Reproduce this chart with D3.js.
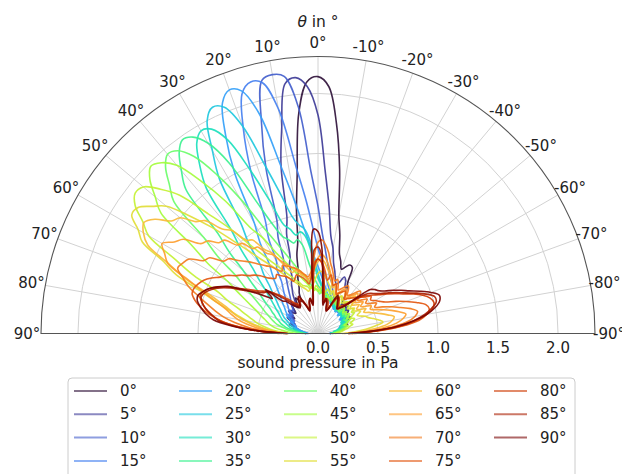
<!DOCTYPE html>
<html><head><meta charset="utf-8">
<script src="https://cdn.jsdelivr.net/npm/d3@7/dist/d3.min.js"></script>
<style>body{margin:0;background:#fff} text{font-family:"DejaVu Sans",sans-serif;fill:#222}</style>
</head><body><svg id="c" width="622" height="474"></svg>
<script>
// angle of incidence (deg), positive = left
const angles = [-90,-87.5,-85,-82.5,-80,-77.5,-75,-72.5,-70,-67.5,-65,-62.5,-60,-57.5,-55,-52.5,-50,-47.5,-45,-42.5,-40,-37.5,-35,-32.5,-30,-27.5,-25,-22.5,-20,-17.5,-15,-12.5,-10,-7.5,-5,-2.5,0,2.5,5,7.5,10,12.5,15,17.5,20,22.5,25,27.5,30,32.5,35,37.5,40,42.5,45,47.5,50,52.5,55,57.5,60,62.5,65,67.5,70,72.5,75,77.5,80,82.5,85,87.5,90];
const seriesNames = ["0°","5°","10°","15°","20°","25°","30°","35°","40°","45°","50°","55°","60°","65°","70°","75°","80°","85°","90°"];
const p0 = [0.12,0.15,0.18,0.2,0.22,0.2,0.24,0.26, 0.22,0.25,0.28,0.3,0.26,0.28,0.3,0.32, 0.28,0.3,0.33,0.35,0.3,0.34,0.4,0.45, .5,.62,.63,.6,.57,.63,.69,.84, 1.0,1.38,1.76,2.06,2.14,2.1,1.84,1.33, 1.03,.78,.68,.55,.49,.41,.37,.3, 0.32,0.35,0.3,0.27,0.3,0.32,0.28,0.25, 0.27,0.3,0.26,0.23,0.25,0.28,0.24,0.21, 0.23,0.25,0.21,0.18,0.2,0.17,0.14,0.12, 0.1];
const p5 = [.1,.13,.16,.18,.2,.22,.2,.23, .26,.24,.27,.3,.28,.25,.28,.32, .3,.33,.36,.32,.3,.35,.4,.44, .45,.5,.52,.46,.44,.48,.54,.6, .72,.82,1.06,1.36,1.82,2.06,2.14,2.1, 1.74,1.42,1.0,.87,.68,.62,.51,.48, .43,.39,.34,.3,.31,.33,.29,.26, .28,.31,.27,.24,.26,.29,.25,.22, .24,.21,.19,.21,.18,.16,.14,.12, .1];
const p10 = [.1,.12,.15,.17,.19,.21,.19,.22, .24,.22,.25,.28,.26,.24,.27,.3, .28,.31,.29,.27,.3,.28,.26,.29, .3,.28,.32,.34,.36,.4,.44,.47, .53,.6,.7,.83,1.06,1.35,1.9,2.16, 2.19,2.16,1.82,1.44,1.0,.87,.68,.62, .53,.47,.42,.38,.35,.32,.3,.28, .3,.27,.25,.28,.24,.22,.25,.21, .2,.22,.19,.17,.16,.14,.12,.1, .09];
const p15 = [.09,.12,.14,.16,.18,.2,.18,.21, .23,.21,.24,.26,.24,.22,.25,.27, .25,.28,.26,.24,.27,.3,.27,.25, .26,.28,.29,.27,.32,.34,.37,.4, .44,.48,.54,.62,.71,.86,1.1,1.4, 1.9,2.14,2.17,2.1,1.82,1.46,1.04,.89, .69,.64,.53,.48,.44,.4,.37,.34, .32,.29,.27,.3,.26,.24,.22,.25, .21,.19,.2,.17,.15,.13,.11,.1, .08];
const p20 = [.1,.13,.15,.17,.16,.19,.21,.19, .22,.24,.22,.25,.23,.21,.24,.26, .24,.22,.25,.27,.24,.23,.26,.24, .25,.26,.27,.28,.3,.31,.33,.35, .38,.41,.45,.5,.56,.63,.73,.88, 1.12,1.43,1.9,2.12,2.16,2.08,1.82,1.5, 1.06,.9,.71,.63,.56,.5,.45,.41, .38,.35,.33,.31,.3,.27,.25,.23, .21,.19,.2,.17,.15,.13,.11,.1, .08];
const p25 = [.1,.12,.14,.16,.18,.17,.2,.22, .2,.23,.25,.22,.24,.26,.23,.25, .27,.24,.26,.28,.25,.27,.29,.26, .28,.27,.29,.28,.3,.29,.31,.33, .35,.37,.4,.44,.5,.6,.78,.88, .92,1.0,1.2,1.47,1.84,2.04,2.08,2.0, 1.76,1.53,1.12,.95,.75,.67,.58,.52, .47,.43,.4,.37,.35,.33,.31,.28, .26,.24,.22,.2,.18,.16,.13,.11, .09];
const p30 = [.1,.12,.14,.13,.16,.18,.2,.19, .22,.24,.21,.23,.25,.27,.24,.26, .24,.27,.25,.28,.26,.24,.27,.25, .27,.26,.28,.3,.29,.31,.33,.3, .34,.36,.38,.42,.46,.55,.7,.82, .86,.84,.9,.95,1.18,1.47,1.78,1.92, 1.95,1.88,1.72,1.53,1.12,.95,.77,.67, .58,.52,.47,.43,.4,.37,.35,.33, .31,.28,.26,.24,.21,.18,.15,.12, .1];
const p35 = [.12,.14,.13,.16,.18,.2,.22,.2, .23,.25,.27,.24,.26,.28,.25,.27, .26,.28,.25,.27,.29,.26,.28,.3, .28,.3,.27,.29,.31,.3,.32,.34, .33,.34,.36,.38,.4,.44,.5,.6, .75,.8,.78,.82,.86,.98,1.21,1.6, 1.83,1.94,1.97,1.9,1.77,1.63,1.18,1.0, .81,.7,.61,.55,.5,.45,.42,.39, .37,.34,.32,.29,.26,.22,.18,.14, .11];
const p40 = [.11,.14,.16,.18,.2,.22,.24,.22, .25,.27,.25,.28,.3,.27,.29,.26, .28,.3,.27,.25,.28,.3,.27,.29, .31,.28,.3,.32,.29,.31,.33,.3, .32,.34,.35,.33,.36,.37,.38,.4, .44,.48,.52,.57,.64,.73,.85,1.02, 1.3,1.57,1.8,1.92,1.95,1.88,1.75,1.63, 1.24,1.05,.83,.73,.64,.57,.52,.48, .44,.41,.38,.35,.3,.26,.21,.16, .12];
const p45 = [.13,.15,.18,.2,.22,.24,.26,.23, .26,.28,.3,.27,.29,.31,.28,.3, .27,.29,.31,.28,.26,.29,.31,.28, .3,.32,.29,.31,.33,.3,.32,.34, .33,.35,.34,.36,.35,.37,.36,.38, .4,.43,.46,.5,.54,.6,.67,.76, .92,1.04,1.35,1.6,1.83,1.93,1.97,1.9, 1.77,1.65,1.29,1.09,.87,.76,.67,.6, .54,.5,.46,.43,.4,.36,.3,.24, .18];
const p50 = [.14,.17,.2,.22,.25,.27,.3,.28, .31,.33,.3,.32,.35,.33,.36,.34, .32,.35,.33,.36,.34,.32,.35,.37, .34,.36,.33,.35,.37,.34,.36,.38, .35,.37,.39,.36,.38,.4,.37,.39, .38,.4,.41,.42,.45,.48,.52,.57, .63,.7,.8,.93,1.14,1.35,1.63,1.78, 1.9,1.92,1.86,1.73,1.63,1.35,1.14,.9, .8,.7,.63,.57,.52,.46,.4,.32, .24];
const p55 = [.2,.3,.4,.48,.55,.52,.48,.44, .42,.38,.36,.4,.38,.35,.37,.34, .36,.4,.38,.35,.33,.36,.34,.37, .35,.33,.36,.34,.38,.36,.4,.42, .45,.48,.5,.52,.5,.46,.42,.39, .38,.36,.38,.4,.42,.45,.48,.52, .57,.63,.7,.78,.9,1.05,1.25,1.45, 1.65,1.74,1.83,1.84,1.73,1.65,1.42,1.28, 1.05,.9,.78,.68,.6,.52,.44,.35, .26];
const p60 = [.22,.35,.48,.58,.63,.65,.6,.55, .5,.46,.42,.45,.4,.38,.42,.39, .37,.41,.44,.4,.38,.36,.39,.42, .4,.37,.35,.38,.42,.4,.44,.48, .52,.56,.6,.62,.6,.55,.5,.46, .44,.48,.5,.53,.56,.55,.6,.68, .78,.83,.95,.98,1.12,1.18,1.33,1.38, 1.5,1.54,1.66,1.72,1.68,1.6,1.37,1.2, .98,.85,.76,.7,.62,.54,.45,.35, .25];
const p65 = [.25,.4,.55,.66,.72,.75,.7,.64, .58,.52,.48,.5,.45,.42,.46,.43, .4,.44,.47,.43,.4,.38,.41,.44, .42,.39,.37,.4,.44,.42,.46,.5, .55,.6,.64,.66,.63,.58,.52,.48, .46,.5,.52,.55,.58,.6,.64,.69, .76,.79,.88,.89,.98,1.0,1.1,1.12, 1.2,1.23,1.37,1.42,1.5,1.44,1.38,1.17, 1.02,.9,.8,.74,.68,.6,.5,.38, .26];
const p70 = [.28,.45,.62,.75,.82,.85,.8,.72, .65,.58,.52,.55,.5,.47,.5,.46, .43,.47,.5,.46,.42,.4,.44,.47, .45,.42,.4,.44,.48,.46,.5,.55, .6,.68,.74,.78,.76,.66,.56,.5, .48,.5,.53,.56,.58,.6,.62,.64, .6,.63,.68,.71,.75,.8,.85,.9, .97,.99,1.1,1.13,1.24,1.27,1.29,1.22, 1.15,1.05,.96,.88,.8,.7,.58,.44, .3];
const p75 = [.3,.5,.7,.85,.92,.95,.93,.86, .78,.7,.62,.58,.55,.52,.54,.5, .47,.45,.42,.4,.38,.36,.4,.42, .4,.38,.36,.4,.44,.42,.46,.5, .45,.5,.56,.6,.62,.6,.52,.46, .42,.45,.48,.5,.52,.5,.48,.52, .55,.57,.6,.58,.6,.63,.68,.72, .75,.8,.84,.9,.94,1.0,1.05,1.08, 1.1,1.1,1.06,1.0,.92,.82,.68,.5, .32];
const p80 = [.28,.48,.68,.82,.92,.98,1.0,.98, .93,.86,.78,.72,.66,.6,.56,.52, .48,.42,.36,.32,.3,.28,.3,.33, .35,.32,.26,.22,.24,.28,.3,.27, .3,.4,.52,.6,.62,.58,.45,.32, .26,.3,.28,.24,.22,.26,.3,.34, .32,.28,.3,.32,.36,.4,.45,.5, .54,.58,.62,.68,.75,.84,.92,.98, 1.02,1.03,1.0,.96,.9,.82,.68,.48, .28];
const p85 = [.26,.46,.66,.8,.9,.97,1.02,1.02, .96,.88,.8,.74,.68,.62,.58,.55, .5,.42,.34,.3,.27,.26,.28,.31, .34,.33,.28,.22,.2,.24,.28,.28, .26,.34,.48,.66,.72,.7,.5,.3, .24,.28,.27,.22,.2,.24,.28,.32, .3,.27,.28,.3,.33,.37,.42,.48, .55,.56,.6,.65,.72,.82,.9,.96, 1.0,1.02,1.0,.96,.9,.84,.7,.5, .26];
const p90 = [.25,.45,.66,.8,.92,1.0,1.05,1.06, 1.0,.92,.84,.78,.72,.66,.62,.6, .57,.45,.35,.3,.28,.26,.28,.3, .33,.36,.3,.22,.2,.22,.28,.3, .24,.3,.45,.72,.85,.87,.6,.32, .24,.3,.28,.22,.2,.24,.3,.35, .33,.28,.26,.28,.3,.33,.38,.4, .57,.48,.55,.64,.74,.85,.92,.98, 1.02,1.05,1.04,1.0,.95,.88,.72,.5, .25];
const seriesValues = [p0,p5,p10,p15,p20,p25,p30,p35,p40,p45,p50,p55,p60,p65,p70,p75,p80,p85,p90];
const thetaTicks = [90,80,70,60,50,40,30,20,10,0,-10,-20,-30,-40,-50,-60,-70,-80,-90];
const radialTicks = [0,0.5,1.0,1.5,2.0];
const radialTickLabels = ["0.0","0.5","1.0","1.5","2.0"];
// turbo colormap samples
const palette = ["#30123b","#3e3b97","#435ecc","#4580f0","#34a0f8","#1fc8de","#1be0bd","#3bf18f","#6bfd6a","#a4fc3c","#c4f135","#e1dd37","#f8bb39","#fd9e2f","#f27a1d","#e35710","#cf3c05","#aa1e02","#7a0403"];

seriesValues.forEach((s,i)=>{ if(s.length!==angles.length) console.error("len mismatch", seriesNames[i], s.length); });

const svg = d3.select("#c");
const cx = 318, cy = 333.5, R = 277, rMax = 2.308;
const r = d3.scaleLinear().domain([0, rMax]).range([0, R]);
const ang = d3.scaleLinear().domain([-90, 90]).range([Math.PI/2, -Math.PI/2]);
const g = svg.append("g").attr("transform", `translate(${cx},${cy})`);

// grid circles
radialTicks.filter(v=>v>0).forEach(v=>{
  const rr = r(v);
  g.append("path").attr("d", `M${-rr},0 A${rr},${rr} 0 0 1 ${rr},0`)
    .attr("fill","none").attr("stroke","#d2d2d2").attr("stroke-width",1);
});
// spokes
thetaTicks.forEach(t=>{
  const a = ang(t);
  g.append("line").attr("x1",0).attr("y1",0)
    .attr("x2", R*Math.sin(a)).attr("y2", -R*Math.cos(a))
    .attr("stroke","#d2d2d2").attr("stroke-width",1);
});

// curves
const line = d3.lineRadial()
  .angle((d,i)=>ang(angles[i]))
  .radius(d=>r(d))
  .curve(d3.curveCatmullRom.alpha(0.5));
seriesValues.forEach((s,i)=>{
  g.append("path").attr("d", line(s)).attr("fill","none")
    .attr("stroke", palette[i]).attr("stroke-width",1.6)
    .attr("stroke-opacity",0.92).attr("stroke-linejoin","round");
});

// frame
g.append("path").attr("d", `M${-R},0 A${R},${R} 0 0 1 ${R},0 Z`)
  .attr("fill","none").attr("stroke","#555").attr("stroke-width",1.1);

// theta labels
thetaTicks.forEach(t=>{
  const a = ang(t), rr = R + 14;
  g.append("text").attr("x", rr*Math.sin(a)).attr("y", -rr*Math.cos(a))
    .attr("text-anchor","middle").attr("dominant-baseline","central")
    .attr("font-size",15).text(`${t}°`);
});
// radial labels
radialTicks.forEach((v,i)=>{
  g.append("text").attr("x", r(v)).attr("y", 19.5)
    .attr("text-anchor","middle").attr("font-size",15).text(radialTickLabels[i]);
});
// axis labels
const title = svg.append("text").attr("x", 318).attr("y", 27).attr("text-anchor","middle").attr("font-size",15.5);
title.append("tspan").attr("font-style","italic").text("θ");
title.append("tspan").text(" in °");
svg.append("text").attr("x", 318).attr("y", 368).attr("text-anchor","middle").attr("font-size",15.5).text("sound pressure in Pa");

// legend
const lg = svg.append("g");
lg.append("rect").attr("x",68).attr("y",378).attr("width",507).attr("height",110).attr("rx",4)
  .attr("fill","#fff").attr("fill-opacity",0.8).attr("stroke","#cccccc").attr("stroke-width",1);
seriesNames.forEach((n,i)=>{
  const col = Math.floor(i/4), row = i%4;
  const x0 = 74 + col*105, y0 = 391 + row*23.3;
  lg.append("line").attr("x1",x0).attr("x2",x0+33).attr("y1",y0).attr("y2",y0)
    .attr("stroke",palette[i]).attr("stroke-width",2).attr("stroke-opacity",0.6);
  lg.append("text").attr("x",x0+46).attr("y",y0).attr("dominant-baseline","central")
    .attr("font-size",15).text(n);
});
</script></body></html>
